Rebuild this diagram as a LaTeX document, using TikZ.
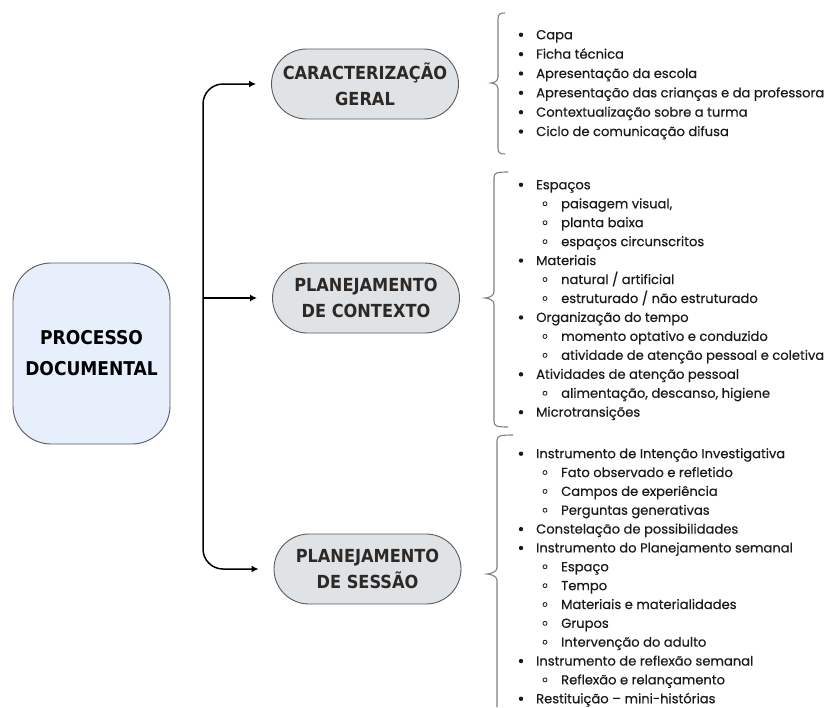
\documentclass[tikz,border=0pt]{standalone}
\usepackage{fontspec}
\usetikzlibrary{arrows.meta}
\newfontfamily\listfont{Poppins}[FakeBold=0.45]
\newfontfamily\headfont{DejaVu Sans Condensed}[BoldFont={* Bold}]
\definecolor{headink}{HTML}{2D2926}
\definecolor{pillfill}{HTML}{DFE3E6}
\definecolor{mainfill}{HTML}{E8EFFC}
\definecolor{edge}{HTML}{5A5A5A}
\definecolor{braceink}{HTML}{808080}
\definecolor{listink}{HTML}{1A1A1A}
% curly brace: top end x, stem x, tip x, top y, tip y, bottom y
\newcommand\drawcurly[6]{%
  \draw[braceline] (#1,#4) .. controls ({#2+2},#4) and (#2,{#4+1}) .. (#2,{#4+6})
    -- (#2,{#5-6}) .. controls (#2,{#5-2}) and ({#3+3},#5) .. (#3,#5)
    .. controls ({#3+3},#5) and (#2,{#5+2}) .. (#2,{#5+6})
    -- (#2,{#6-6}) .. controls (#2,{#6-1}) and ({#2+2},#6) .. (#1,#6);}
\begin{document}
\begin{tikzpicture}[x=1pt,y=-1pt,
  pill/.style={draw=edge, line width=0.9pt, fill=pillfill, rounded corners=35pt,
    minimum width=187pt, minimum height=70pt, align=center, inner sep=0pt,
    font=\headfont\bfseries\fontsize{18}{26.5}\selectfont, text=headink},
  mainbox/.style={draw=edge, line width=0.9pt, fill=mainfill, rounded corners=38pt,
    minimum width=157pt, minimum height=181pt, align=center, inner sep=0pt,
    font=\headfont\bfseries\fontsize{19}{31}\selectfont, text=black},
  conn/.style={line width=1.5pt, -{Latex[length=7pt,width=7pt]}, shorten >=15pt},
  braceline/.style={draw=braceink, line width=1.1pt},
  item/.style={anchor=base west, inner sep=0pt, text=listink,
    font=\listfont\fontsize{13.1}{15}\selectfont},
]
\useasboundingbox (0,0) rectangle (826,707);

% category nodes
\node[mainbox] (proc) at (91.5,353.5) {PROCESSO\\DOCUMENTAL};
\node[pill] (cg)  at (365,84)    {CARACTERIZAÇÃO\\GERAL};
\node[pill] (ctx) at (366,298)   {PLANEJAMENTO\\DE CONTEXTO};
\node[pill] (ses) at (367.5,569) {PLANEJAMENTO\\DE SESSÃO};

% trunk with branches
\coordinate (trunk) at (203,298);
\draw[conn] (trunk) -- (ctx.west);
\draw[conn, rounded corners=20pt] (trunk) |- (cg.west);
\draw[conn, rounded corners=20pt] (trunk) |- (ses.west);

% braces
\drawcurly{505}{498}{491}{13}{83}{154}
\drawcurly{508}{494}{485}{172}{298}{427}
\draw[braceline] (513,435) .. controls (499,435) and (497,436) .. (497,441)
    -- (497,568) .. controls (497,572) and (490,574) .. (487,574)
    .. controls (490,574) and (497,576) .. (497,580) -- (497,707);

% item lists
\foreach \lv/\tx [count=\i from 0] in {
  1/Capa, 1/Ficha técnica, 1/Apresentação da escola,
  1/Apresentação das crianças e da professora,
  1/Contextualização sobre a turma, 1/Ciclo de comunicação difusa}{
  \pgfmathsetmacro\yy{39.3+\i*19.35}
  \fill[listink] (521,\yy-4.5) circle (2.2pt);
  \node[item] (ga-\i) at (536,\yy) {\tx};
}
\foreach \lv/\tx [count=\i from 0] in {
  1/Espaços, 2/{paisagem visual,}, 2/planta baixa, 2/espaços circunscritos,
  1/Materiais, 2/{natural / artificial}, 2/{estruturado / não estruturado},
  1/Organização do tempo, 2/momento optativo e conduzido,
  2/atividade de atenção pessoal e coletiva,
  1/Atividades de atenção pessoal, 2/{alimentação, descanso, higiene},
  1/Microtransições}{
  \pgfmathsetmacro\yy{189.3+\i*18.95}
  \ifnum\lv=1
    \fill[listink] (521,\yy-4.5) circle (2.2pt);
    \node[item] (gb-\i) at (536,\yy) {\tx};
  \else
    \draw[listink, line width=0.8pt] (545,\yy-4.5) circle (2pt);
    \node[item] (gb-\i) at (561,\yy) {\tx};
  \fi
}
\foreach \lv/\tx [count=\i from 0] in {
  1/Instrumento de Intenção Investigativa, 2/Fato observado e refletido,
  2/Campos de experiência, 2/Perguntas generativas,
  1/Constelação de possibilidades, 1/Instrumento do Planejamento semanal,
  2/Espaço, 2/Tempo, 2/Materiais e materialidades, 2/Grupos,
  2/Intervenção do adulto, 1/Instrumento de reflexão semanal,
  2/Reflexão e relançamento, 1/Restituição – mini-histórias}{
  \pgfmathsetmacro\yy{458.2+\i*18.85}
  \ifnum\lv=1
    \fill[listink] (521,\yy-4.5) circle (2.2pt);
    \node[item] (gc-\i) at (536,\yy) {\tx};
  \else
    \draw[listink, line width=0.8pt] (545,\yy-4.5) circle (2pt);
    \node[item] (gc-\i) at (561,\yy) {\tx};
  \fi
}
\end{tikzpicture}
\end{document}
